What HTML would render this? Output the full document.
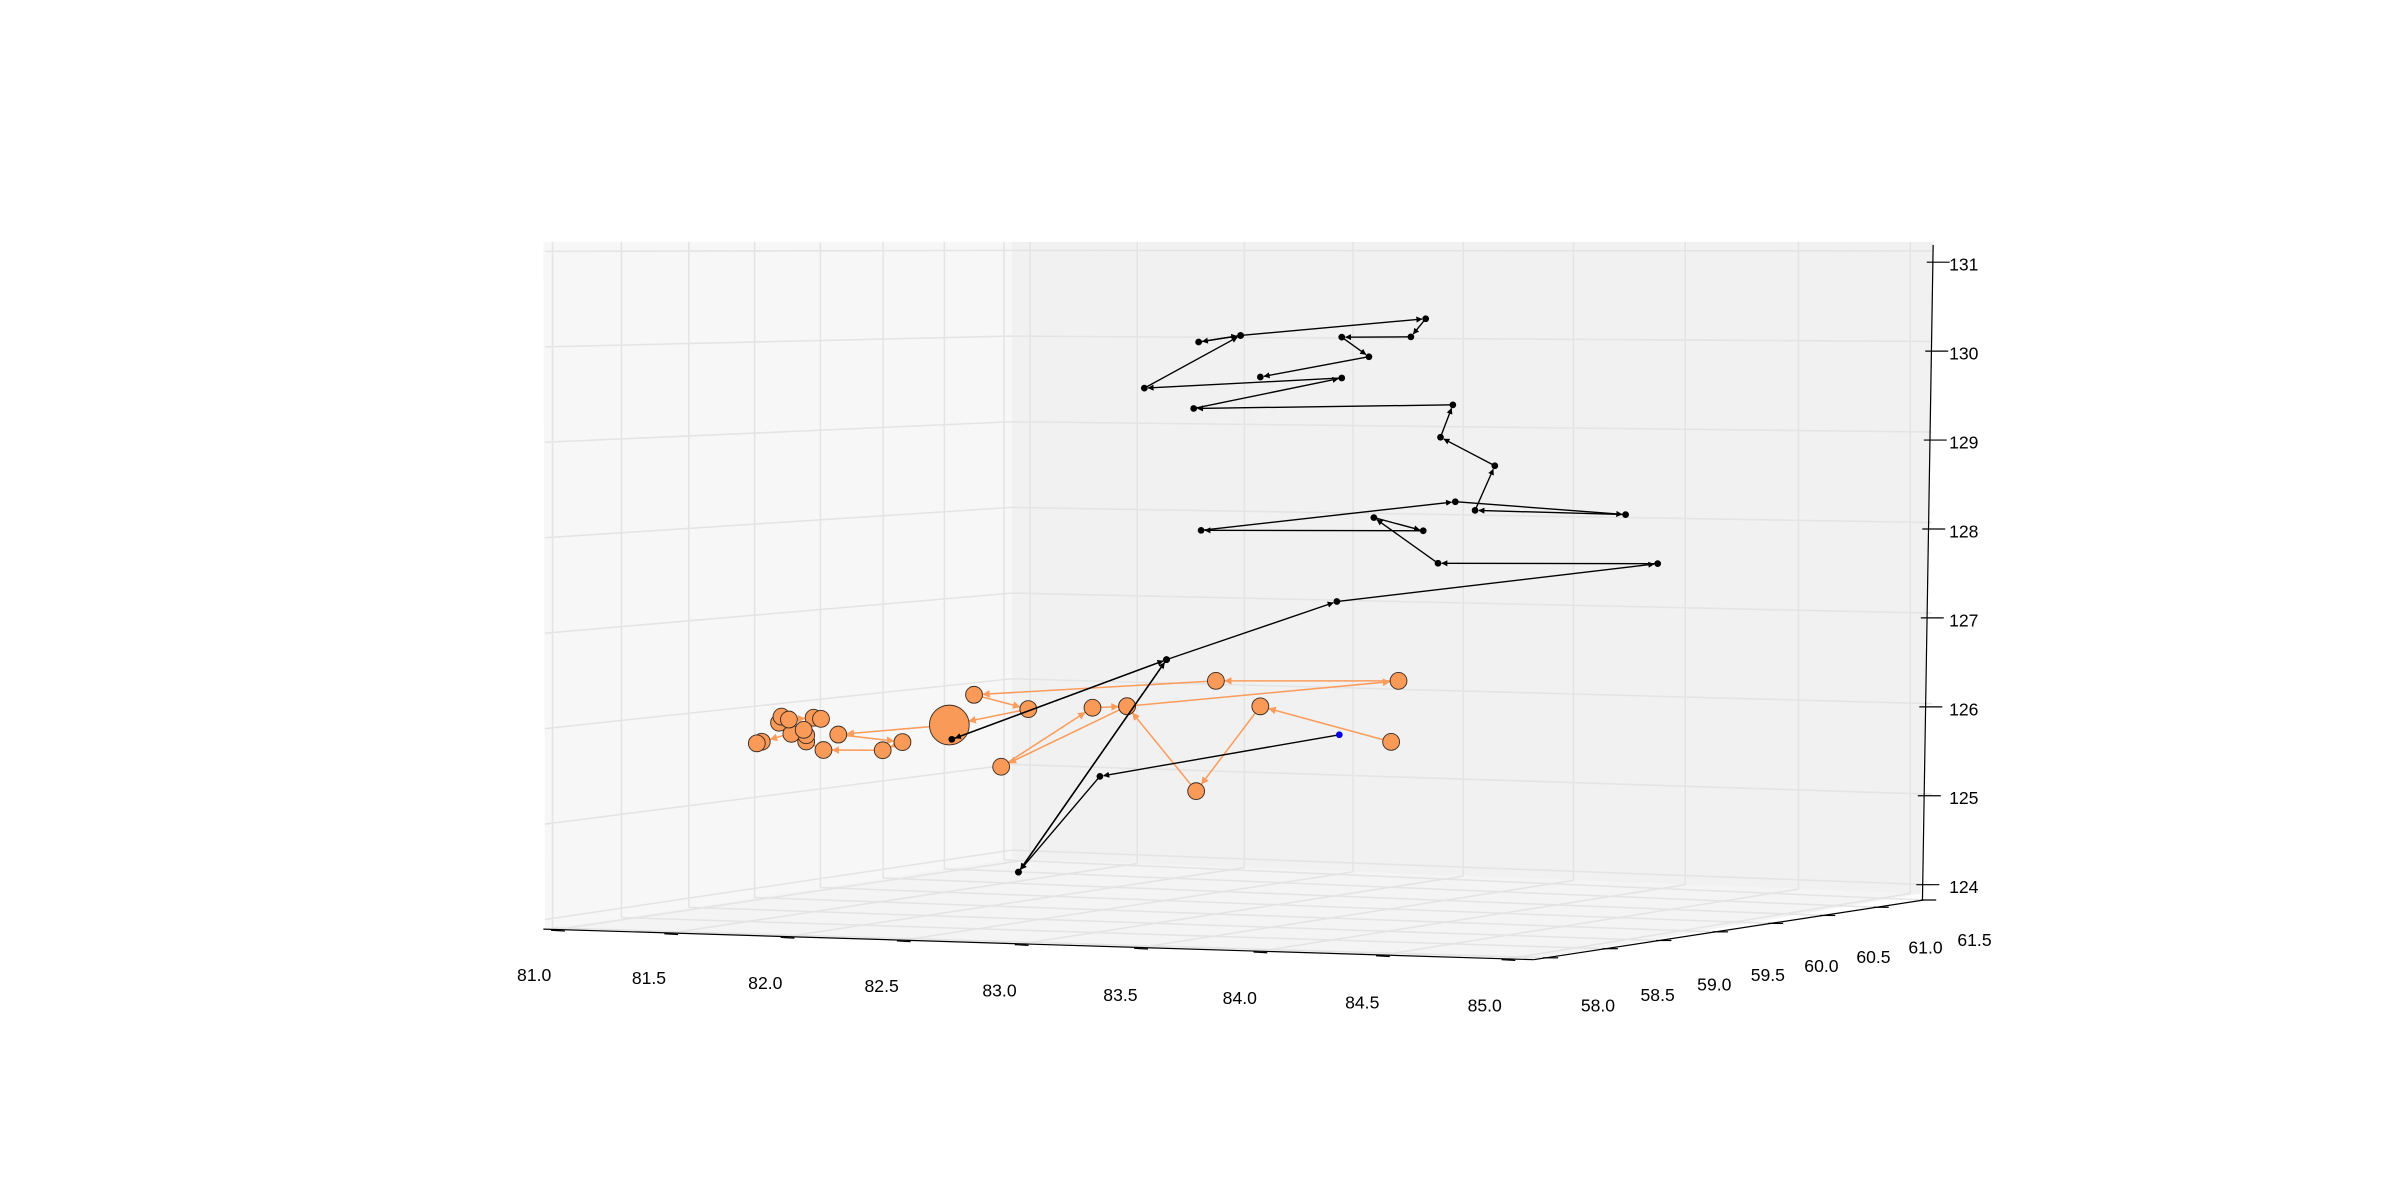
<!DOCTYPE html>
<html><head><meta charset="utf-8"><style>
html,body{margin:0;padding:0;background:#fff;}
svg{display:block;}
text{font-family:"Liberation Sans",sans-serif;font-size:11.5px;fill:#000;}
</style></head><body>
<svg id="chart" width="2400" height="1185" viewBox="0 0 1568 774.2" preserveAspectRatio="none" xmlns="http://www.w3.org/2000/svg">
<defs>
<marker id="arrK" viewBox="0 0 10 10" refX="9" refY="5" markerWidth="4" markerHeight="4" markerUnits="userSpaceOnUse" orient="auto"><path d="M0,0 L10,5 L0,10 z" fill="#000"/></marker>
<marker id="arrO" viewBox="0 0 10 10" refX="9" refY="5" markerWidth="5" markerHeight="5" markerUnits="userSpaceOnUse" orient="auto"><path d="M0,0 L10,5 L0,10 z" fill="#fc9c5c"/></marker>
</defs>
<g id="panes">
<polygon points="355,158 661,158 661,561 356,607" fill="#f7f7f7"/>
<polygon points="661,158 1263,158 1255,584 661,561" fill="#f1f1f1"/>
<polygon points="356,607 661,561 1255,584 1002,627" fill="#f4f4f4"/>
</g>
<g id="grid" stroke="#e4e4e4" stroke-width="1" fill="none"></g>
<g id="axes"></g>
<g id="orange"></g>
<g id="black"></g>
</svg>
<script>
// ---- data ----
const xTickLabels = ["81.0","81.5","82.0","82.5","83.0","83.5","84.0","84.5","85.0"];
const yTickLabels = ["58.0","58.5","59.0","59.5","60.0","60.5","61.0","61.5"];
const zTickLabels = ["124","125","126","127","128","129","130","131"];
const blackX = [83.45,82.48,82.15,82.75,82.15,82.75,81.88,82.75,83.44,84.74,83.85,83.59,83.79,82.89,83.92,84.61,84.00,84.08,83.86,83.91,82.86,83.46,82.66,83.05,82.88,83.05,83.80,83.74,83.46,83.57,83.13];
const blackZ = [125.90,125.34,124.23,126.68,124.23,126.68,125.70,126.68,127.40,127.95,127.87,128.36,128.23,128.15,128.57,128.49,128.48,128.99,129.29,129.66,129.52,129.92,129.73,130.36,130.27,130.36,130.62,130.41,130.38,130.17,129.90];
const orangeX = [83.66,83.13,82.87,82.59,82.08,82.45,82.59,83.69,82.95,81.97,82.19,81.87,81.42,81.68,81.60,81.36,81.29,81.29,81.23,81.18,81.19,81.22,81.32,81.35,81.28,81.11,81.09];
const orangeZ = [125.84,126.19,125.21,126.14,125.41,126.11,126.14,126.53,126.46,126.21,126.07,125.86,125.71,125.65,125.55,125.53,125.62,125.69,125.70,125.82,125.89,125.86,125.89,125.88,125.75,125.60,125.58];
const depthY = 59.75;
const bigIndex = 11;

// ---- projection ----
function px(x,y){ return 355 + 161.25*(x-81) + 71.4*(y-58); }
function py(x,y,z){ return 603 + 5.5*(x-81) - 12*(y-58) - 58*(z-123.91); }

const NS="http://www.w3.org/2000/svg";
function mk(tag,attrs,parent){const e=document.createElementNS(NS,tag);for(const k in attrs)e.setAttribute(k,attrs[k]);parent.appendChild(e);return e;}

// ---- grid ----
const grid=document.getElementById('grid');
function lerp(a,b,t){return a+(b-a)*t;}
// left wall verticals
[361,406,450,493,536,577,617,656].forEach(x=>{const t=(x-356)/(661-356);const gl=mk('line',{x1:x,y1:158,x2:x,y2:lerp(607,561,t)},grid);});
// back wall verticals
[673,743,813,884,956,1028,1101,1175,1248].forEach(x=>{const t=(x-661)/(1255-661);const gl=mk('line',{x1:x,y1:158,x2:x,y2:lerp(561,584,t)},grid);});
// horizontal z lines
for(let z=124;z<=131;z++){
  const yl=607-(z-123.9)*(607-158)/7.2, yc=561-(z-123.9)*(561-158)/7.2, yr=584-(z-123.9)*(584-158)/7.2;
  const gl=mk('polyline',{points:`356,${yl} 661,${yc} 1262,${yr}`},grid);
  
}
// floor grid
const xFront=[364,438,514,590,667,745,823,903,985], xBack=[673,743,813,884,956,1028,1101,1175,1248];
xFront.forEach((f,i)=>{const tf=(f-356)/(1002-356),tb=(xBack[i]-661)/(1255-661);const gl=mk('line',{x1:f,y1:lerp(607,627,tf),x2:xBack[i],y2:lerp(561,584,tb)},grid);});
const yLeft=[361,406,450,493,536,577,617,656], yRight=[1010,1049,1084,1121,1157,1191,1226,1257];
yLeft.forEach((l,i)=>{const tl=(l-356)/(661-356);const gl=mk('line',{x1:l,y1:lerp(607,561,tl),x2:yRight[i],y2:lerp(627,588,(yRight[i]-1002)/(1257-1002))},grid);});

// ---- axes ----
const axes=document.getElementById('axes');
let a=mk('line',{x1:355,y1:607,x2:1002,y2:627,stroke:'#000','stroke-width':0.8},axes);
a=mk('line',{x1:1002,y1:627,x2:1257,y2:588,stroke:'#000','stroke-width':0.8},axes);
a=mk('line',{x1:1263,y1:160,x2:1256,y2:588,stroke:'#000','stroke-width':0.8},axes);
const xLabPos=[[349,641],[424,643],[500,646],[576,648],[653,651],[732,654],[810,656],[890,659],[970,661]];
xTickLabels.forEach((s,i)=>{
  const f=xFront[i],ty=lerp(607,627,(f-356)/(1002-356));
  const tk=mk('line',{x1:f-4,y1:ty+0.5,x2:f+5,y2:ty+1,stroke:'#000','stroke-width':0.8},axes);
  
  const t=mk('text',{x:xLabPos[i][0],y:xLabPos[i][1],'text-anchor':'middle'},axes);t.textContent=s;
  
});
const yLabPos=[[1044,661],[1083,654],[1120,647],[1155,641],[1190,635],[1224,629],[1258,623],[1290,618]];
yTickLabels.forEach((s,i)=>{
  const r=yRight[i],ty=lerp(627,588,(r-1002)/(1257-1002));
  const tk=mk('line',{x1:r-2,y1:ty,x2:r+8,y2:ty,stroke:'#000','stroke-width':0.8},axes);
  
  const t=mk('text',{x:yLabPos[i][0],y:yLabPos[i][1],'text-anchor':'middle'},axes);t.textContent=s;
  
});
zTickLabels.forEach((s,i)=>{
  const z=124+i, y=578-(z-124)*58.1, x=1256+(578-y)/418*7;
  const tk=mk('line',{x1:x-4,y1:y,x2:x+11,y2:y,stroke:'#000','stroke-width':0.8},axes);
  
  const t=mk('text',{x:1283,y:y+5.5,'text-anchor':'middle'},axes);t.textContent=s;
  
});

// ---- series ----
function drawSeries(g,X,Z,color,marker,rEnd,lw){
  const pts=X.map((x,i)=>[px(x,depthY),py(x,depthY,Z[i])]);
  for(let i=1;i<pts.length;i++){
    const [x0,y0]=pts[i-1],[x1,y1]=pts[i];
    const dx=x1-x0,dy=y1-y0,d=Math.hypot(dx,dy)||1;
    const re=(i===bigIndex&&g.id==='orange')?13:rEnd;
    const e=mk('line',{x1:x0,y1:y0,x2:x1-dx/d*re,y2:y1-dy/d*re,stroke:color,'stroke-width':lw,'marker-end':`url(#${marker})`},g);
    
    
  }
  return pts;
}
const og=document.getElementById('orange');
const opts=drawSeries(og,orangeX,orangeZ,'#fc9c5c','arrO',5.8,1);
opts.forEach((p,i)=>{
  const c=mk('circle',{cx:p[0],cy:p[1],r:i===bigIndex?13:5.5,fill:'#f99a59',stroke:'#3a2a20','stroke-width':0.6},og);
  
  
});
const bg=document.getElementById('black');
const bpts=drawSeries(bg,blackX,blackZ,'#000','arrK',2.5,0.9);
bpts.forEach((p,i)=>{
  const c=mk('circle',{cx:p[0],cy:p[1],r:2.2,fill:i===0?'#0000e0':'#000'},bg);
  
  
});
</script>
</body></html>
